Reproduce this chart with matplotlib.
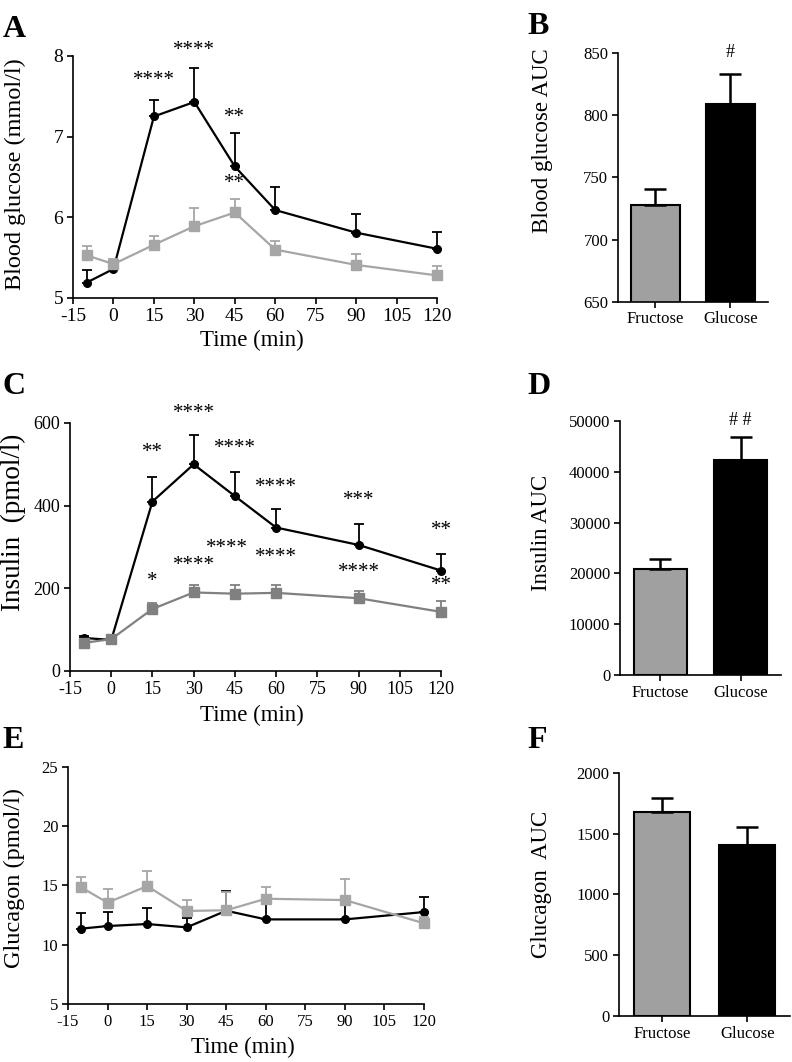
import numpy as np
import matplotlib
matplotlib.use('Agg')
import matplotlib.pyplot as plt

plt.rcParams['font.family'] = ['Liberation Serif', 'DejaVu Serif']
plt.rcParams['axes.unicode_minus'] = False
plt.rcParams['axes.linewidth'] = 1.2

# time points (min)
time = [-10, 0, 15, 30, 45, 60, 90, 120]
xticks = [-15, 0, 15, 30, 45, 60, 75, 90, 105, 120]

# A: blood glucose (mmol/l)
glu_glc = [5.19, 5.36, 7.25, 7.43, 6.63, 6.09, 5.81, 5.61]
glu_glc_err = [0.16, 0.10, 0.21, 0.42, 0.41, 0.29, 0.23, 0.21]
glu_fru = [5.53, 5.42, 5.66, 5.89, 6.06, 5.60, 5.41, 5.28]
glu_fru_err = [0.11, 0.06, 0.11, 0.22, 0.17, 0.11, 0.14, 0.12]
glu_stars = [(15, 7.58, '****'), (30, 7.95, '****'), (45, 7.12, '**'), (45, 6.30, '**')]

# C: insulin (pmol/l)
ins_glc = [80, 75, 410, 500, 423, 347, 305, 243]
ins_glc_err = [5, 5, 60, 70, 58, 44, 51, 40]
ins_fru = [68, 77, 150, 190, 187, 189, 176, 143]
ins_fru_err = [8, 6, 15, 17, 20, 18, 17, 27]
ins_stars = [(15, 505, '**'), (30, 600, '****'), (45, 515, '****'), (60, 421, '****'),
             (90, 389, '***'), (120, 317, '**'),
             (15, 194, '*'), (30, 232, '****'), (42, 273, '****'), (60, 251, '****'),
             (90, 215, '****'), (120, 184, '**')]

# E: glucagon (pmol/l)
gcg_glc = [11.35, 11.57, 11.74, 11.46, 12.86, 12.13, 12.13, 12.75]
gcg_glc_err = [1.35, 1.15, 1.35, 0.8, 1.63, 1.3, 1.2, 1.29]
gcg_fru = [14.83, 13.54, 14.94, 12.84, 12.90, 13.87, 13.76, 11.80]
gcg_fru_err = [0.9, 1.12, 1.24, 0.92, 1.54, 0.96, 1.77, 0.5]

# AUC bars
groups = ['Fructose', 'Glucose']
auc_glu = [728, 809]
auc_glu_err = [13, 24.5]
auc_ins = [20800, 42300]
auc_ins_err = [1970, 4470]
auc_gcg = [1674, 1403]
auc_gcg_err = [118, 150]

fig = plt.figure(figsize=(7.92, 10.62), dpi=100)


def style(ax, size):
    ax.spines['top'].set_visible(False)
    ax.spines['right'].set_visible(False)
    ax.tick_params(direction='out', length=4, width=1.2, labelsize=size, pad=3)


def line_panel(rect, fru, fru_err, glc, glc_err, fru_color, ylim, yticks, ylabel, stars,
               tsize, ysize, ylab_xy, xlab_y):
    ax = fig.add_axes(rect)
    ax.errorbar(time, glc, yerr=[np.zeros(len(glc)), glc_err], color='black', lw=1.6,
                marker='o', ms=5.5, capsize=3.5, elinewidth=1.3, capthick=1.3,
                clip_on=False, zorder=3)
    ax.errorbar(time, fru, yerr=[np.zeros(len(fru)), fru_err], color=fru_color, lw=1.6,
                marker='s', ms=6.5, capsize=3.5, elinewidth=1.3, capthick=1.3,
                clip_on=False, zorder=4)
    for x, y, s in stars:
        ax.text(x, y, s, ha='center', va='bottom', fontsize=15, clip_on=False)
    ax.set_xlim(-15, 120)
    ax.set_xticks(xticks)
    ax.set_xticklabels([str(t) for t in xticks])
    ax.set_ylim(*ylim)
    ax.set_yticks(yticks)
    ax.set_xlabel('Time (min)', fontsize=16.5)
    ax.xaxis.set_label_coords(0.49, xlab_y)
    ax.set_ylabel(ylabel, fontsize=ysize)
    ax.yaxis.set_label_coords(*ylab_xy)
    style(ax, tsize)
    return ax


def bar_panel(rect, vals, errs, ylim, yticks, ylabel, ylab_xy, mark=None):
    ax = fig.add_axes(rect)
    ax.bar([0, 1], vals, width=0.66, color=['#a0a0a0', 'black'], edgecolor='black',
           linewidth=1.5, yerr=[[0, 0], errs], capsize=8,
           error_kw=dict(elinewidth=1.8, capthick=1.8, ecolor='black'))
    ax.set_xlim(-0.5, 1.5)
    ax.set_ylim(*ylim)
    ax.set_yticks(yticks)
    ax.set_xticks([0, 1])
    ax.set_xticklabels(groups, fontsize=13)
    ax.set_ylabel(ylabel, fontsize=16.5)
    ax.yaxis.set_label_coords(*ylab_xy)
    if mark:
        ax.text(1, ylim[1], mark, ha='center', va='center', fontsize=13, clip_on=False)
    style(ax, 12)
    return ax


line_panel([0.0922, 0.7194, 0.4596, 0.2279], glu_fru, glu_fru_err, glu_glc, glu_glc_err,
           '#a6a6a6', (5, 8), [5, 6, 7, 8], 'Blood glucose (mmol/l)', glu_stars,
           14, 17.5, (-0.13, 0.51), -0.13)
line_panel([0.0884, 0.3682, 0.4684, 0.2335], ins_fru, ins_fru_err, ins_glc, ins_glc_err,
           '#808080', (0, 600), [0, 200, 400, 600], 'Insulin  (pmol/l)', ins_stars,
           13, 19.5, (-0.118, 0.6), -0.135)
line_panel([0.0859, 0.0546, 0.4495, 0.2235], gcg_fru, gcg_fru_err, gcg_glc, gcg_glc_err,
           '#a6a6a6', (5, 25), [5, 10, 15, 20, 25], 'Glucagon (pmol/l)', [],
           12, 17.5, (-0.121, 0.53), -0.14)

bar_panel([0.7803, 0.7159, 0.1890, 0.2342], auc_glu, auc_glu_err, (650, 850),
          [650, 700, 750, 800, 850], 'Blood glucose AUC', (-0.434, 0.646), '#')
bar_panel([0.7828, 0.3644, 0.2033, 0.2392], auc_ins, auc_ins_err, (0, 50000),
          [0, 10000, 20000, 30000, 40000, 50000], 'Insulin AUC', (-0.422, 0.56), '# #')
bar_panel([0.7816, 0.0433, 0.2159, 0.2291], auc_gcg, auc_gcg_err, (0, 2000),
          [0, 500, 1000, 1500, 2000], 'Glucagon  AUC', (-0.392, 0.54))

for lbl, x, y in [('A', 0.003, 0.986), ('B', 0.666, 0.989), ('C', 0.003, 0.65),
                  ('D', 0.666, 0.65), ('E', 0.003, 0.316), ('F', 0.666, 0.316)]:
    fig.text(x, y, lbl, fontsize=23, fontweight='bold', va='top', ha='left')

fig.savefig('out.png', dpi=100)
